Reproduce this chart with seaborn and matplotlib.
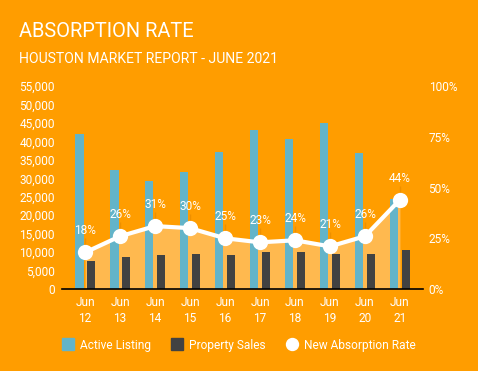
import pandas as pd
import seaborn as sns
import matplotlib.pyplot as plt
from matplotlib.lines import Line2D
from matplotlib.ticker import FuncFormatter

# chart values
dates = ['Jun\n12', 'Jun\n13', 'Jun\n14', 'Jun\n15', 'Jun\n16',
         'Jun\n17', 'Jun\n18', 'Jun\n19', 'Jun\n20', 'Jun\n21']
active = [42000, 32300, 29200, 31700, 37100, 43100, 40600, 44900, 36800, 24500]
sales = [7500, 8600, 9200, 9500, 9200, 9900, 9900, 9500, 9500, 10500]
rates = [18, 26, 31, 30, 25, 23, 24, 21, 26, 44]

BG = '#FF9D00'
BLUE = '#63B4C9'
DARK = '#424242'
FILL = '#FFB94F'
FS = 8.6

sns.set_theme(style='white')
plt.rcParams['font.family'] = ['Roboto', 'DejaVu Sans']

df = pd.DataFrame({'date': dates, 'Active Listing': active, 'Property Sales': sales})
long_df = df.melt(id_vars='date', var_name='series', value_name='count')

fig = plt.figure(figsize=(4.78, 3.71), dpi=100, facecolor=BG)
ax = fig.add_axes([0.1297, 0.221, 0.7553, 0.547])
ax.set_facecolor(BG)
ax2 = ax.twinx()

sns.barplot(data=long_df, x='date', y='count', hue='series', order=dates,
            hue_order=['Active Listing', 'Property Sales'],
            palette={'Active Listing': BLUE, 'Property Sales': DARK},
            width=0.64, gap=0.28, saturation=1, linewidth=0, ax=ax,
            legend=False, zorder=2)

xs = list(range(len(dates)))
ax.set_xlim(-0.66, len(dates) - 1 + 0.66)

# shaded area under the rate line, kept behind the bars
ax2.set_ylim(0, 100)
ax.fill_between(xs, rates, 0, color=FILL, transform=ax2.transData, zorder=1, lw=0)
ax.set_ylim(0, 55000)

# rate line on the right axis
ax2.vlines(xs, rates, [r + 7 for r in rates], color='#EE9000', lw=1, zorder=1)
sns.lineplot(x=xs, y=rates, ax=ax2, color='white', lw=3, marker='o',
             markersize=11, markeredgewidth=0, zorder=3)
for x, r in zip(xs, rates):
    ax2.text(x, r + 10.6, f'{r}%', color='white', fontsize=FS,
             ha='center', va='center', zorder=4)

# axes styling
for a in (ax, ax2):
    for s in a.spines.values():
        s.set_visible(False)
    a.tick_params(length=0, colors='white', labelsize=FS)
    a.set_xlabel('')
    a.set_ylabel('')
ax.spines['bottom'].set_visible(True)
ax.spines['bottom'].set_color('black')
ax.spines['bottom'].set_linewidth(1.2)

ax.set_yticks(range(0, 55001, 5000))
ax.yaxis.set_major_formatter(FuncFormatter(lambda v, p: f'{int(v):,}'))
ax.tick_params(axis='y', pad=5)
ax2.set_yticks([0, 25, 50, 75, 100])
ax2.yaxis.set_major_formatter(FuncFormatter(lambda v, p: f'{int(v)}%'))
ax2.tick_params(axis='y', pad=4)
ax.tick_params(axis='x', pad=5)
for lbl in ax.get_xticklabels():
    lbl.set_linespacing(1.35)

# titles
fig.text(0.04, 0.8995, 'ABSORPTION RATE', color='white', fontsize=14.4,
         va='baseline', ha='left')
fig.text(0.04, 0.8294, 'HOUSTON MARKET REPORT - JUNE 2021', color='white',
         fontsize=10.1, va='baseline', ha='left')

# legend
handles = [
    Line2D([], [], ls='none', marker='s', markersize=8.6, color=BLUE),
    Line2D([], [], ls='none', marker='s', markersize=8.6, color=DARK),
    Line2D([], [], ls='none', marker='o', markersize=8.6, color='white'),
]
fig.legend(handles, ['Active Listing', 'Property Sales', 'New Absorption Rate'],
           loc='center', bbox_to_anchor=(0.5, 0.07), ncol=3, frameon=False,
           fontsize=FS, labelcolor='white', handletextpad=0.5,
           columnspacing=1.7, handlelength=1.0)

fig.savefig('out.png', dpi=100, facecolor=BG)
